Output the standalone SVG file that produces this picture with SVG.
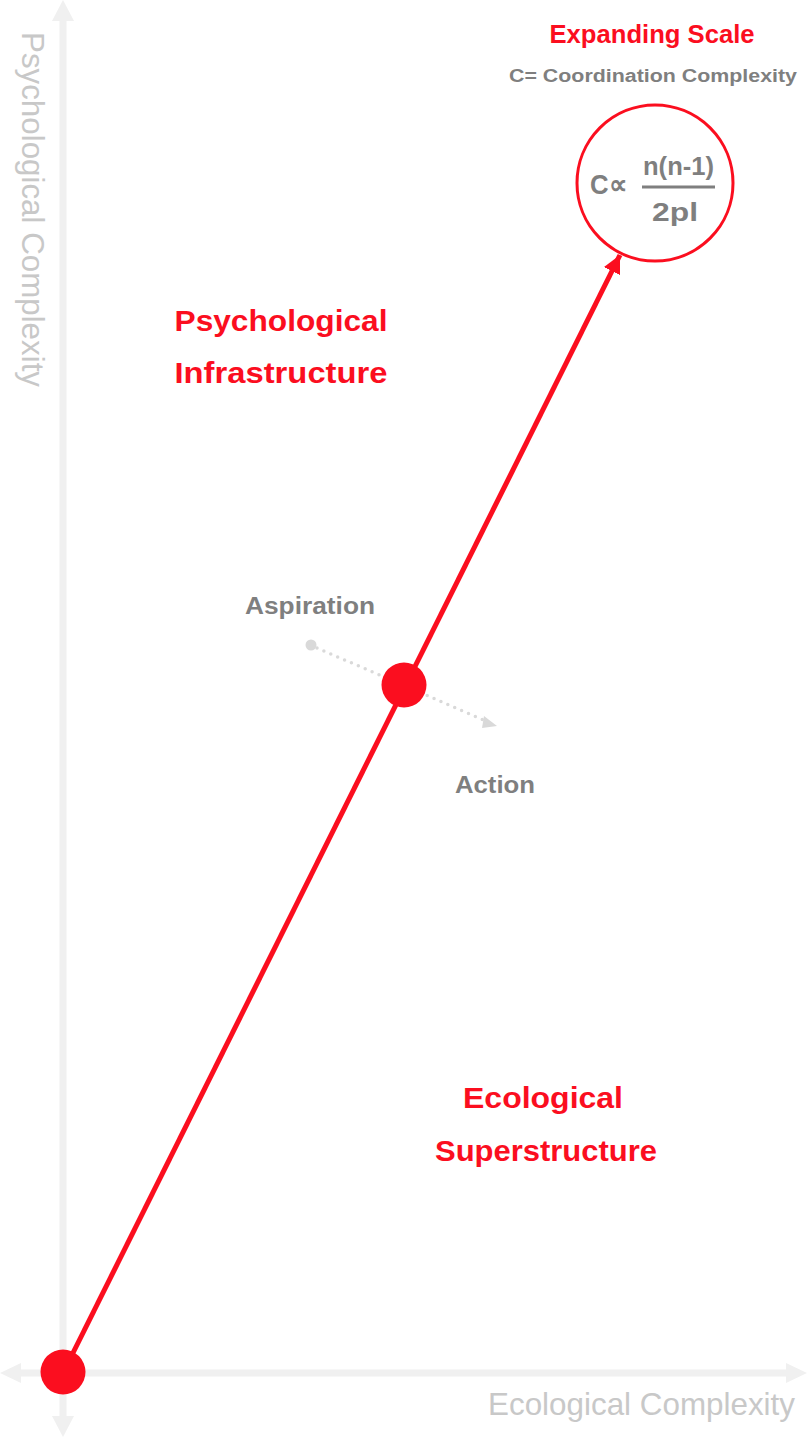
<svg xmlns="http://www.w3.org/2000/svg" width="807" height="1437" viewBox="0 0 807 1437">
  <style>
    .axis { stroke: #f0f0f0; stroke-width: 7; fill: none; }
    .axishead { fill: #f0f0f0; }
    .axislabel { font-family: "Liberation Sans", Arial, sans-serif; font-size: 32px; fill: #c8c8c8; }
    .red { fill: #fb0e1f; }
    .redtitle { font-family: "Liberation Sans", Arial, sans-serif; font-weight: bold; font-size: 30px; fill: #fb0e1f; text-anchor: middle; }
    .gray { font-family: "Liberation Sans", Arial, sans-serif; font-weight: bold; fill: #7f7f7f; }
    .math { font-family: "Liberation Sans", Arial, sans-serif; fill: #7f7f7f; }
  </style>
  <defs>
    <marker id="redArrow" viewBox="0 0 10 10" refX="10" refY="5" markerWidth="3.6" markerHeight="3.6" orient="auto" markerUnits="strokeWidth">
      <path d="M0,0 L10,5 L0,10 z" fill="#fb0e1f"/>
    </marker>
  </defs>

  <g id="axes">
    <line class="axis" x1="63" y1="18" x2="63" y2="1419"/>
    <path class="axishead" d="M63,0 L74,21 L52,21 z"/>
    <path class="axishead" d="M63,1437 L74,1416 L52,1416 z"/>
    <line class="axis" x1="18" y1="1373" x2="789" y2="1373"/>
    <path class="axishead" d="M0,1373 L21,1363 L21,1383 z"/>
    <path class="axishead" d="M807,1373 L786,1363 L786,1383 z"/>
    <text class="axislabel" transform="translate(22,32) rotate(90)" textLength="355" lengthAdjust="spacingAndGlyphs">Psychological Complexity</text>
    <text class="axislabel" x="488" y="1415" textLength="307" lengthAdjust="spacingAndGlyphs">Ecological Complexity</text>
  </g>

  <g id="connectors">
    <line x1="63" y1="1373" x2="620" y2="255" stroke="#fb0e1f" stroke-width="5" marker-end="url(#redArrow)"/>
    <line x1="317" y1="648" x2="486" y2="721" stroke="#d9d9d9" stroke-width="3.5" stroke-linecap="round" stroke-dasharray="0 7.5"/>
    <path d="M484,716 L497,726 L482,728 z" fill="#d9d9d9"/>
  </g>

  <g id="aspiration-start">
    <circle cx="311" cy="645" r="5.5" fill="#d9d9d9"/>
  </g>

  <g id="origin-node">
    <circle cx="63" cy="1372" r="22.5" class="red"/>
  </g>

  <g id="mid-node">
    <circle cx="404" cy="685" r="22.5" class="red"/>
  </g>

  <g id="scale-node">
    <circle cx="655" cy="183" r="78" fill="none" stroke="#fb0e1f" stroke-width="3"/>
    <text class="math" x="590" y="194" font-size="28" font-weight="bold" textLength="37" lengthAdjust="spacingAndGlyphs">C∝</text>
    <text class="math" x="643" y="175" font-size="25" font-weight="bold" textLength="71" lengthAdjust="spacingAndGlyphs">n(n-1)</text>
    <line x1="642" y1="187" x2="715" y2="187" stroke="#7f7f7f" stroke-width="3"/>
    <text class="math" x="652" y="221" font-size="26" font-weight="bold" textLength="46" lengthAdjust="spacingAndGlyphs">2pl</text>
  </g>

  <g id="scale-title">
    <text x="652" y="43" font-family="Liberation Sans, Arial, sans-serif" font-weight="bold" font-size="25" fill="#fb0e1f" text-anchor="middle" textLength="205" lengthAdjust="spacingAndGlyphs">Expanding Scale</text>
    <text class="gray" x="653" y="82" font-size="18" font-weight="normal" text-anchor="middle" textLength="288" lengthAdjust="spacingAndGlyphs">C= Coordination Complexity</text>
  </g>

  <g id="psych-infra">
    <text class="redtitle" x="281" y="331" textLength="213" lengthAdjust="spacingAndGlyphs">Psychological</text>
    <text class="redtitle" x="281" y="383" textLength="213" lengthAdjust="spacingAndGlyphs">Infrastructure</text>
  </g>

  <g id="eco-super">
    <text class="redtitle" x="543" y="1108" textLength="160" lengthAdjust="spacingAndGlyphs">Ecological</text>
    <text class="redtitle" x="546" y="1161" textLength="222" lengthAdjust="spacingAndGlyphs">Superstructure</text>
  </g>

  <g id="aspiration-label">
    <text class="gray" x="245" y="614" font-size="23" textLength="130" lengthAdjust="spacingAndGlyphs">Aspiration</text>
  </g>

  <g id="action-label">
    <text class="gray" x="455" y="793" font-size="23" textLength="80" lengthAdjust="spacingAndGlyphs">Action</text>
  </g>
</svg>
